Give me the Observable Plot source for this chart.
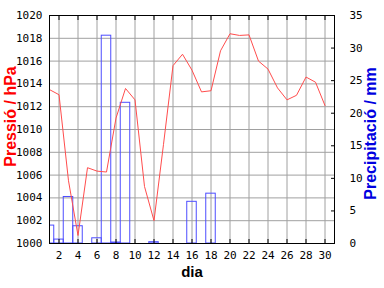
<!DOCTYPE html>
<html>
<head>
<meta charset="utf-8">
<script src="https://cdn.jsdelivr.net/npm/d3@7"></script>
<script src="https://cdn.jsdelivr.net/npm/@observablehq/plot@0.6"></script>
<style>
  html, body { margin: 0; padding: 0; background: #fff; }
</style>
</head>
<body>
<div id="chart"></div>
<script>
const days = [1,2,3,4,5,6,7,8,9,10,11,12,13,14,15,16,17,18,19,20,21,22,23,24,25,26,27,28,29,30];
const pressure = [1013.5,1013.05,1005.5,1000.7,1006.65,1006.35,1006.27,1011.0,1013.6,1012.6,1005.0,1002.0,1008.7,1015.6,1016.6,1015.2,1013.3,1013.4,1016.9,1018.4,1018.25,1018.3,1016.0,1015.3,1013.65,1012.6,1013.0,1014.6,1014.15,1012.1];
const precipitation = [2.75,0.6,7.14,2.65,0,0.8,31.9,0.15,21.6,0,0,0.2,0,0,0,6.4,0,7.65,0,0,0,0,0,0,0,0,0,0,0,0];
const xTicks = [2,4,6,8,10,12,14,16,18,20,22,24,26,28,30];
const pressureTicks = [1000,1002,1004,1006,1008,1010,1012,1014,1016,1018,1020];
const precipTicks = [0,5,10,15,20,25,30,35];

const pMin = 1000, pMax = 1020, mmMax = 35;
const toP = mm => pMin + mm * (pMax - pMin) / mmMax;

const lineData = days.map((d, i) => ({day: d, p: pressure[i]}));
const barData = days.map((d, i) => ({day: d, mm: precipitation[i]})).filter(d => d.mm > 0);

const red = "#ff4d4d", blue = "#4d4dff";

const chart = Plot.plot({
  width: 384,
  height: 288,
  marginLeft: 49,
  marginRight: 50,
  marginTop: 15,
  marginBottom: 45,
  style: {fontFamily: "DejaVu Sans Mono", fontSize: "11px", background: "#fff", color: "#000"},
  x: {domain: [1, 31]},
  y: {domain: [pMin, pMax]},
  marks: [
    Plot.gridX(xTicks, {stroke: "#a0a0a0", strokeOpacity: 1}),
    Plot.gridY(pressureTicks, {stroke: "#a0a0a0", strokeOpacity: 1}),
    Plot.rectY(barData, {x1: d => d.day - 0.5, x2: d => d.day + 0.5, y1: pMin, y2: d => toP(d.mm), fill: "none", stroke: blue, clip: true}),
    Plot.line(lineData, {x: "day", y: "p", stroke: red, strokeWidth: 1}),
    Plot.frame({stroke: "#000"}),
    Plot.axisX(xTicks, {anchor: "bottom", tickSize: 0, tickPadding: 8, tickFormat: d => String(d), label: null}),
    Plot.axisX(xTicks, {anchor: "bottom", tickSize: -4, tickFormat: () => "", label: null}),
    Plot.axisX(xTicks, {anchor: "top", tickSize: -4, tickFormat: () => "", label: null}),
    Plot.axisY(pressureTicks, {anchor: "left", tickSize: 0, tickPadding: 7, tickFormat: d => String(d), label: null}),
    Plot.axisY(precipTicks.map(toP), {anchor: "right", tickSize: 0, tickPadding: 15, tickFormat: (v) => String(Math.round((v - pMin) * mmMax / (pMax - pMin))), label: null}),
    Plot.axisY(precipTicks.map(toP), {anchor: "right", tickSize: -4, tickFormat: () => "", label: null}),
    Plot.text(["dia"], {frameAnchor: "bottom", lineAnchor: "middle", textAnchor: "middle", dy: 29, text: d => d, fontFamily: "Liberation Sans", fontWeight: "bold", fontSize: 15, fill: "#000"}),
    Plot.text(["Pressió / hPa"], {frameAnchor: "left", lineAnchor: "middle", textAnchor: "middle", dx: -39, dy: -13, rotate: -90, text: d => d, fontFamily: "Liberation Sans", fontWeight: "bold", fontSize: 16, fill: "#ff0000"}),
    Plot.text(["Precipitació / mm"], {frameAnchor: "right", lineAnchor: "middle", textAnchor: "middle", dx: 36, dy: 4, rotate: -90, text: d => d, fontFamily: "Liberation Sans", fontWeight: "bold", fontSize: 16, fill: "#0000e0"})
  ]
});
document.getElementById("chart").appendChild(chart);
</script>
</body>
</html>
